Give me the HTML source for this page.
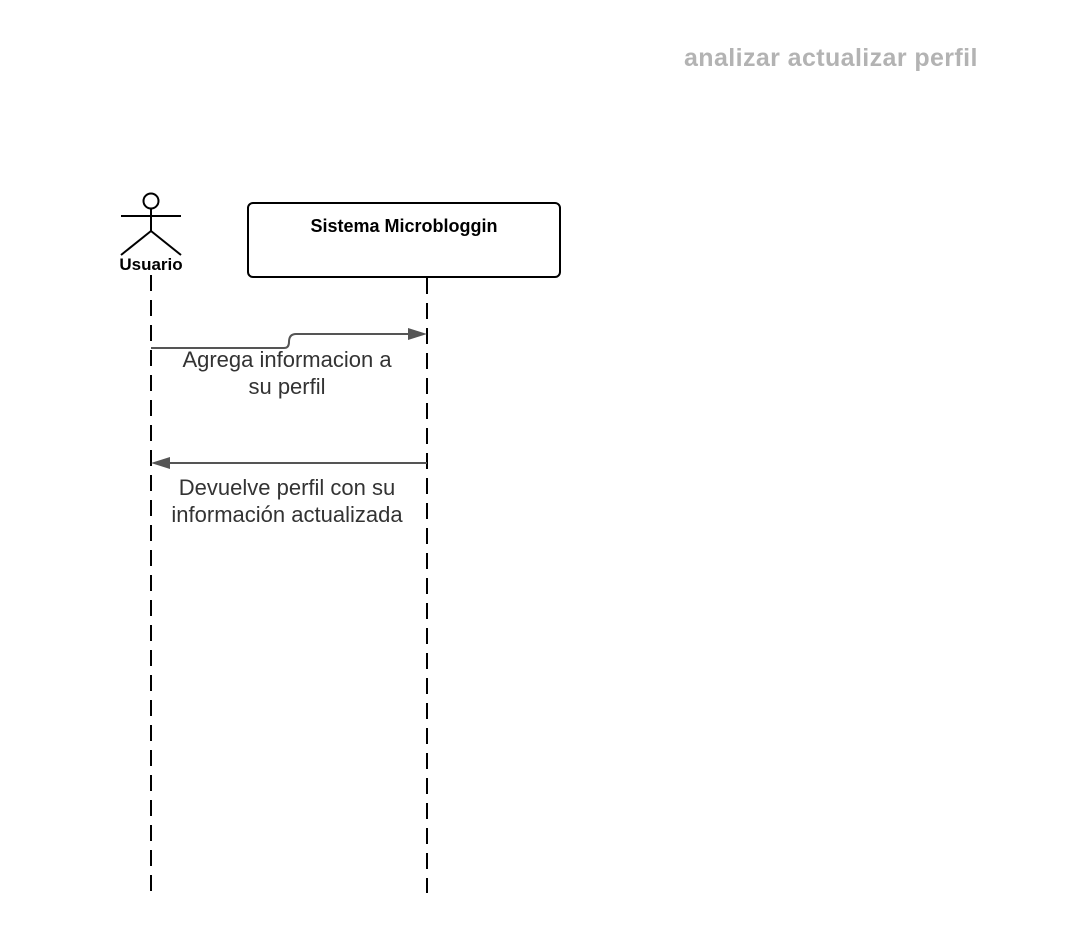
<!DOCTYPE html>
<html><head><style>
body{margin:0;background:#fff;width:1074px;height:937px;overflow:hidden;position:relative;font-family:"Liberation Sans",sans-serif}
.t{position:absolute;white-space:nowrap}
</style></head><body>
<div class="t" style="left:684px;top:44px;font-size:25px;letter-spacing:0.4px;font-weight:bold;color:#b3b3b3">analizar actualizar perfil</div>
<svg width="1074" height="937" style="position:absolute;left:0;top:0">
<g stroke="#000" stroke-width="2" fill="none">
<circle cx="151" cy="201" r="7.5"/>
<line x1="121" y1="216" x2="181" y2="216"/>
<line x1="151" y1="208" x2="151" y2="231"/>
<line x1="151" y1="231" x2="121" y2="255"/>
<line x1="151" y1="231" x2="181" y2="255"/>
<rect x="248" y="203" width="312" height="74" rx="5"/>
<line x1="151" y1="275" x2="151" y2="897" stroke-dasharray="16,9"/>
<line x1="427" y1="278" x2="427" y2="893" stroke-dasharray="16,9"/>
</g>
<path d="M151 348 H284 Q289 348 289 342 Q289 334 296 334 H410" stroke="#555" stroke-width="2" fill="none"/>
<polygon points="427,334 408,328 408,340" fill="#555"/>
<line x1="427" y1="463" x2="168" y2="463" stroke="#555" stroke-width="2"/>
<polygon points="151,463 170,457 170,469" fill="#555"/>
</svg>
<div class="t" style="left:51px;width:200px;text-align:center;top:255px;font-size:17px;font-weight:bold">Usuario</div>
<div class="t" style="left:248px;width:500px;margin-left:-94px;text-align:center;top:216px;font-size:18px;font-weight:bold">Sistema Microbloggin</div>
<div class="t" style="left:137px;width:300px;text-align:center;top:346px;font-size:22px;line-height:27px;color:#333">Agrega informacion a<br>su perfil</div>
<div class="t" style="left:137px;width:300px;text-align:center;top:474px;font-size:22px;line-height:27px;color:#333">Devuelve perfil con su<br>información actualizada</div>
</body></html>
